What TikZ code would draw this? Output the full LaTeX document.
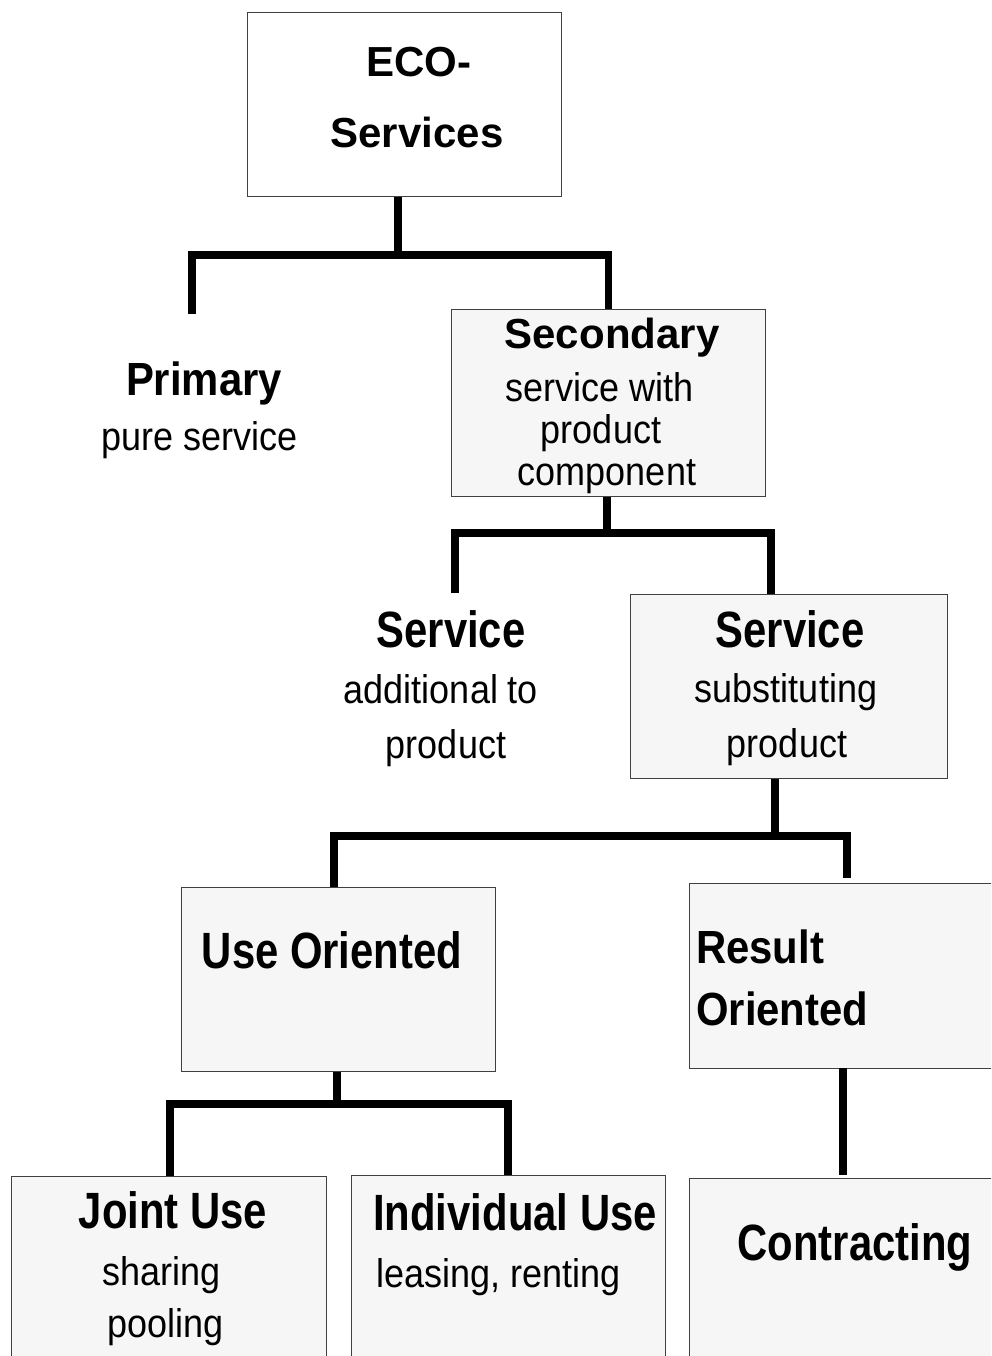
\documentclass[tikz,border=0pt]{standalone}
\usepackage{fontspec}
\setmainfont{Liberation Sans}
\newfontfamily\semifont[FakeStretch=0.9]{Liberation Sans}
\newfontfamily\narrowfont[FakeStretch=0.82]{Liberation Sans}
\usepackage{xcolor}

\begin{document}
\begin{tikzpicture}[x=1pt,y=-1pt,
  box/.style={draw=black!75,line width=1.3pt,fill=gray!7,inner sep=0,anchor=north west},
  link/.style={line width=7.5pt,line join=miter},
  head/.style={font=\fontsize{42}{50}\selectfont\bfseries,anchor=base,inner sep=0},
  shead/.style={font=\semifont\fontsize{46.5}{55}\selectfont\bfseries,anchor=base,inner sep=0},
  nhead/.style={font=\narrowfont\fontsize{51}{60}\selectfont\bfseries,anchor=base,inner sep=0},
  sub/.style={font=\semifont\fontsize{40}{48}\selectfont,anchor=base,inner sep=0}]
\useasboundingbox (0,0) rectangle (991,1356);
\clip (0,0) rectangle (991,1356);
\node[box,fill=white,minimum width=314,minimum height=184] (eco) at (247,12) {};
\node[box,minimum width=314,minimum height=187] (sec) at (451,309) {};
\node[box,minimum width=317,minimum height=184] (ssub) at (630,594) {};
\node[box,minimum width=314,minimum height=184] (useor) at (181,887) {};
\node[box,minimum width=320,minimum height=185] (resor) at (689,883) {};
\node[box,minimum width=315,minimum height=200] (joint) at (11,1176) {};
\node[box,minimum width=314,minimum height=200] (indiv) at (351,1175) {};
\node[box,minimum width=320,minimum height=200] (contr) at (689,1178) {};
\node[head] (ecoA) at (419,77) {ECO-};
\node[head] (ecoB) at (417,148) {Services};
\node[shead] (primA) at (204,395) {Primary};
\node[sub] (primB) at (200,450) {pure service};
\node[head] (secA) at (612,348) {Secondary};
\node[sub] (secB) at (600,401) {service with};
\node[sub] (secC) at (601,443) {product};
\node[sub] (secD) at (607,485) {component};
\node[nhead] (addA) at (451,647) {Service};
\node[sub] (addB) at (441,703) {additional to};
\node[sub] (addC) at (446,758) {product};
\node[nhead] (subA) at (790,647) {Service};
\node[sub] (subB) at (786,702) {substituting};
\node[sub] (subC) at (787,757) {product};
\node[nhead] (useA) at (332,968) {Use Oriented};
\node[shead,anchor=base west] (resA) at (696,963) {Result};
\node[shead,anchor=base west] (resB) at (696,1025) {Oriented};
\node[nhead] (conA) at (855,1260) {Contracting};
\node[nhead] (joiA) at (173,1228) {Joint Use};
\node[sub] (joiB) at (162,1285) {sharing};
\node[sub] (joiC) at (166,1337) {pooling};
\node[nhead] (indA) at (515,1230) {Individual Use};
\node[sub] (indB) at (499,1287) {leasing, renting};
\coordinate (j1) at (398,255);
\coordinate (pfree) at (192,314);
\draw[link] (eco.south -| j1) -- (j1);
\draw[link] (pfree) |- (j1) -| (sec.north);
\coordinate (j2) at (607,533);
\coordinate (j2r) at (771,533);
\coordinate (afree) at (455,593);
\draw[link] (sec.south -| j2) -- (j2);
\draw[link] (afree) |- (j2r) -- (j2r |- ssub.north);
\coordinate (j3) at (775,836);
\coordinate (j3l) at (334,836);
\coordinate (j3r) at (847,836);
\draw[link] (ssub.south -| j3) -- (j3);
\draw[link] (j3l |- useor.north) |- (j3r) -- ([yshift=5]j3r |- resor.north);
\coordinate (j4) at (843,1068);
\draw[link] (j4) -- ([yshift=3]j4 |- contr.north);
\coordinate (j5) at (337,1104);
\coordinate (j5l) at (170,1104);
\coordinate (j5r) at (508,1104);
\draw[link] (useor.south -| j5) -- (j5);
\draw[link] (j5l |- joint.north) |- (j5r) -- (j5r |- indiv.north);
\end{tikzpicture}
\end{document}
